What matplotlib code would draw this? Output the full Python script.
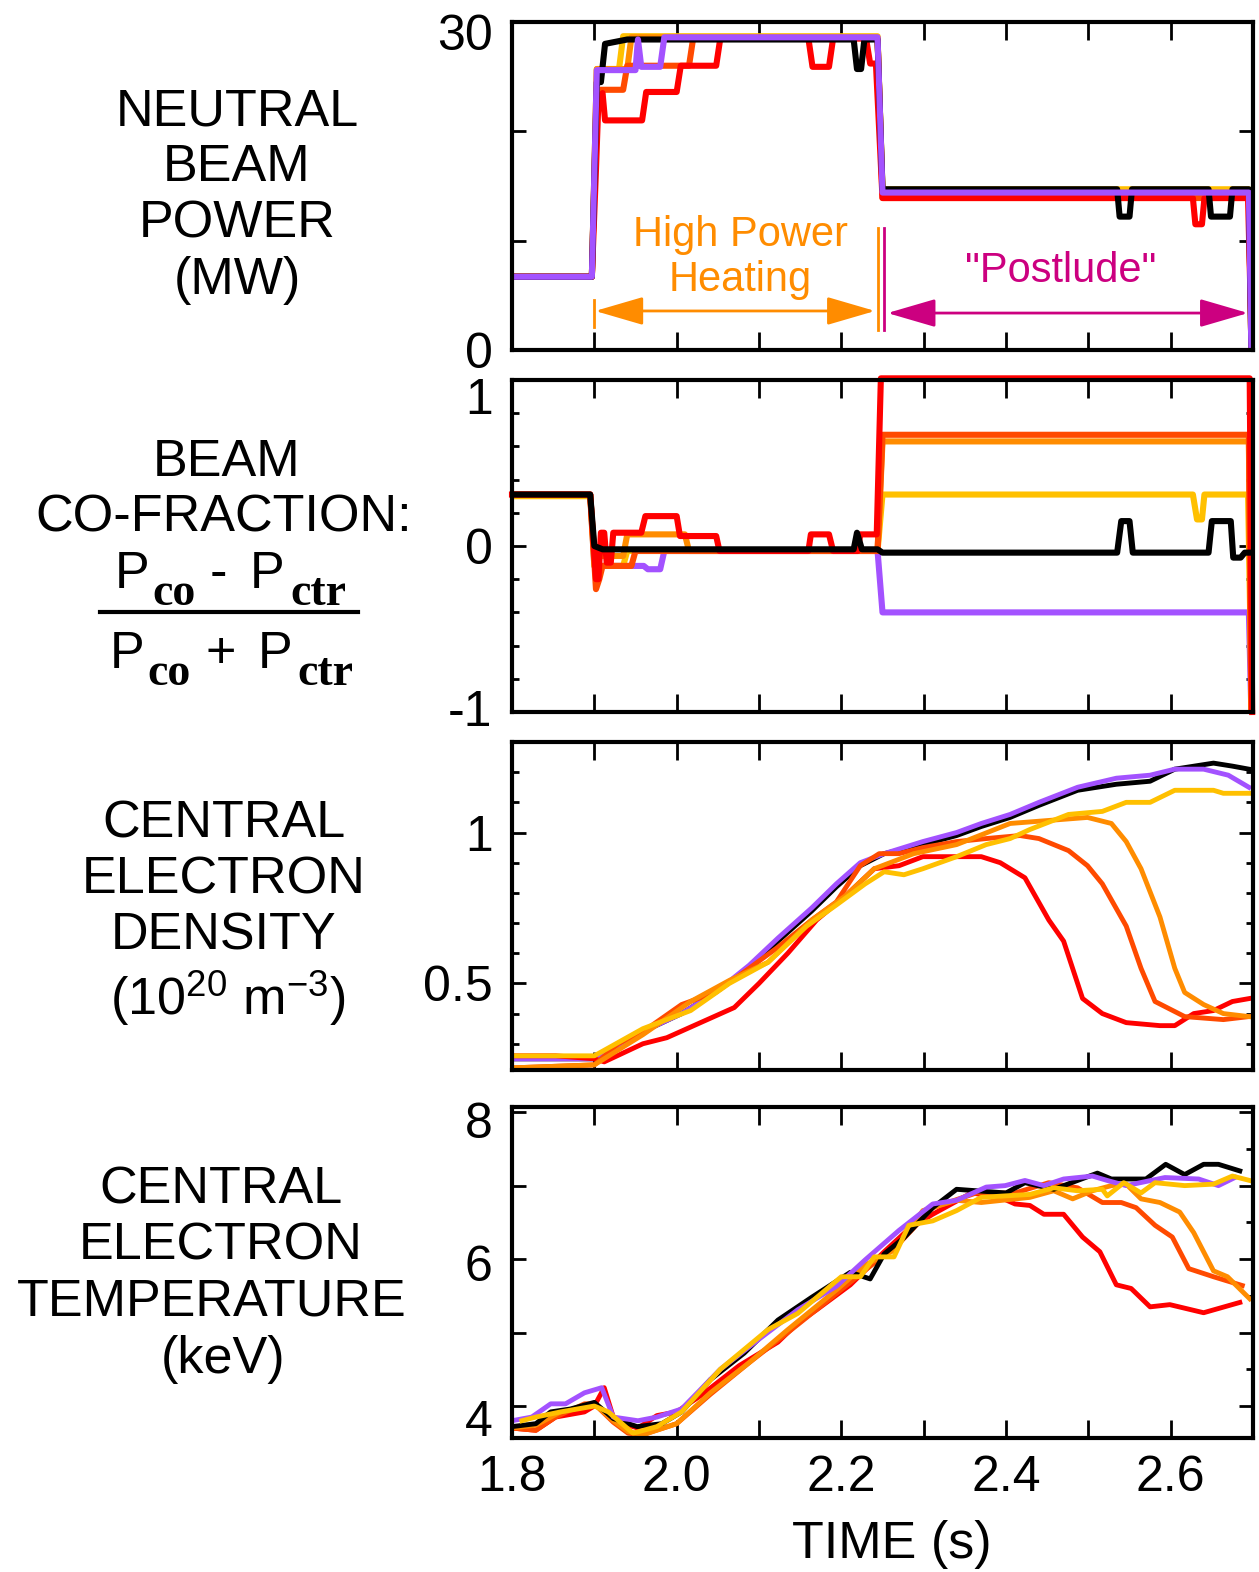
import matplotlib
matplotlib.use("Agg")
import matplotlib.pyplot as plt
from matplotlib.lines import Line2D
from matplotlib.transforms import ScaledTranslation

plt.rcParams['font.family'] = ['Liberation Sans', 'DejaVu Sans']
plt.rcParams['mathtext.fontset'] = 'custom'
plt.rcParams['mathtext.rm'] = 'Liberation Sans'
plt.rcParams['mathtext.it'] = 'Liberation Sans:italic'
plt.rcParams['mathtext.bf'] = 'Liberation Sans:bold'

# colores de cada descarga
C_BLACK = '#000000'
C_RED = '#FF0000'
C_OREDRED = '#FF4A00'
C_ORANGE = '#FF8C00'
C_GOLD = '#FFC000'
C_PURPLE = '#A352FF'

# 1. Potencia de haces neutros (MW)
nb_t_black = [1.8, 1.897, 1.903, 1.908, 1.913, 1.94, 2.215, 2.219, 2.224, 2.228, 2.244, 2.25, 2.535, 2.538, 2.55, 2.553, 2.646, 2.649, 2.672, 2.675, 2.695, 2.698]
nb_black = [6.7, 6.7, 24.5, 24.5, 28.0, 28.4, 28.4, 25.7, 25.7, 28.4, 28.4, 14.7, 14.7, 12.2, 12.2, 14.7, 14.7, 12.2, 12.2, 14.7, 14.7, 0.0]
nb_t_red = [1.8, 1.897, 1.902, 1.905, 1.91, 1.913, 1.958, 1.963, 2.0, 2.005, 2.048, 2.053, 2.16, 2.165, 2.185, 2.19, 2.23, 2.235, 2.242, 2.25, 2.627, 2.63, 2.638, 2.641, 2.694, 2.697, 2.699]
nb_red = [6.7, 6.7, 16.5, 22.9, 23.5, 21.0, 21.0, 23.6, 23.6, 26.0, 26.0, 28.5, 28.5, 25.9, 25.9, 28.5, 28.5, 26.2, 26.2, 13.9, 13.9, 11.5, 11.5, 13.9, 13.9, 4.6, 0.0]
nb_t_oredred = [1.8, 1.897, 1.903, 1.935, 1.94, 2.015, 2.02, 2.244, 2.25, 2.695, 2.698]
nb_oredred = [6.7, 6.7, 23.8, 23.8, 26.0, 26.0, 28.5, 28.5, 13.9, 13.9, 0.0]
nb_t_orange = [1.8, 1.897, 1.903, 1.94, 1.945, 2.244, 2.25, 2.695, 2.698]
nb_orange = [6.7, 6.7, 25.7, 25.7, 28.6, 28.6, 14.4, 14.4, 0.0]
nb_t_gold = [1.8, 1.897, 1.903, 1.93, 1.935, 2.244, 2.25, 2.695, 2.698]
nb_gold = [6.7, 6.7, 25.7, 25.7, 28.7, 28.7, 14.7, 14.7, 0.0]
nb_t_purple = [1.8, 1.897, 1.903, 1.95, 1.953, 1.957, 1.98, 1.985, 2.244, 2.25, 2.695, 2.698]
nb_purple = [6.7, 6.7, 25.6, 25.6, 28.4, 25.9, 25.9, 28.6, 28.6, 14.4, 14.4, 0.0]

# 2. Fraccion co-corriente
cf_t_black = [1.8, 1.895, 1.9, 1.91, 2.215, 2.219, 2.225, 2.244, 2.25, 2.535, 2.54, 2.55, 2.554, 2.646, 2.65, 2.673, 2.676, 2.685, 2.69, 2.695]
cf_black = [0.31, 0.31, 0.0, -0.02, -0.02, 0.08, -0.02, -0.02, -0.04, -0.04, 0.15, 0.15, -0.04, -0.04, 0.15, 0.15, -0.07, -0.07, -0.04, -0.04]
cf_t_red = [1.8, 1.895, 1.902, 1.905, 1.908, 1.912, 1.915, 1.92, 1.923, 1.957, 1.962, 2.0, 2.004, 2.048, 2.052, 2.16, 2.163, 2.185, 2.19, 2.22, 2.223, 2.243, 2.248, 2.696, 2.699]
cf_red = [0.31, 0.31, -0.2, -0.2, 0.08, 0.08, -0.1, -0.1, 0.08, 0.08, 0.18, 0.18, 0.06, 0.06, -0.03, -0.03, 0.07, 0.07, -0.03, -0.03, 0.07, 0.07, 1.01, 1.01, -1.0]
cf_t_oredred = [1.8, 1.895, 1.902, 1.906, 1.91, 1.945, 1.95, 2.244, 2.25, 2.695, 2.698]
cf_oredred = [0.31, 0.31, -0.26, -0.2, -0.12, -0.12, -0.03, -0.03, 0.67, 0.67, -1.0]
cf_t_orange = [1.8, 1.895, 1.9, 1.935, 1.94, 2.01, 2.015, 2.244, 2.25, 2.695, 2.698]
cf_orange = [0.31, 0.31, -0.06, -0.06, 0.07, 0.07, -0.03, -0.03, 0.63, 0.63, -1.0]
cf_t_gold = [1.8, 1.895, 1.9, 1.935, 1.94, 2.244, 2.25, 2.627, 2.632, 2.638, 2.641, 2.694, 2.699]
cf_gold = [0.30, 0.30, -0.12, -0.12, -0.03, -0.03, 0.31, 0.31, 0.16, 0.16, 0.31, 0.31, -1.1]
cf_t_purple = [1.8, 1.895, 1.9, 1.96, 1.965, 1.98, 1.985, 2.244, 2.25, 2.695, 2.698]
cf_purple = [0.31, 0.31, -0.12, -0.12, -0.14, -0.14, -0.03, -0.03, -0.40, -0.40, -1.0]

# 3. Densidad electronica central (1e20 m^-3)
ne_t_black = [1.8, 1.9, 1.959, 2.006, 2.047, 2.088, 2.123, 2.164, 2.194, 2.223, 2.252, 2.299, 2.34, 2.37, 2.405, 2.44, 2.487, 2.534, 2.575, 2.605, 2.652, 2.675, 2.695]
ne_black = [0.25, 0.25, 0.34, 0.40, 0.47, 0.55, 0.64, 0.74, 0.82, 0.89, 0.93, 0.96, 0.99, 1.02, 1.05, 1.09, 1.14, 1.16, 1.17, 1.21, 1.23, 1.22, 1.21]
ne_t_purple = [1.8, 1.9, 1.959, 2.006, 2.047, 2.088, 2.123, 2.164, 2.194, 2.223, 2.252, 2.299, 2.34, 2.37, 2.405, 2.44, 2.487, 2.534, 2.575, 2.605, 2.64, 2.67, 2.695]
ne_purple = [0.25, 0.25, 0.34, 0.40, 0.47, 0.56, 0.65, 0.75, 0.83, 0.90, 0.93, 0.97, 1.0, 1.03, 1.06, 1.10, 1.15, 1.18, 1.19, 1.21, 1.21, 1.19, 1.15]
ne_t_gold = [1.8, 1.9, 1.959, 2.017, 2.064, 2.111, 2.158, 2.194, 2.229, 2.252, 2.276, 2.299, 2.34, 2.376, 2.405, 2.429, 2.476, 2.517, 2.546, 2.575, 2.605, 2.652, 2.664, 2.695]
ne_gold = [0.26, 0.26, 0.35, 0.41, 0.50, 0.57, 0.69, 0.76, 0.83, 0.87, 0.86, 0.88, 0.92, 0.96, 0.98, 1.01, 1.06, 1.07, 1.10, 1.10, 1.14, 1.14, 1.13, 1.13]
ne_t_orange = [1.8, 1.9, 1.959, 2.017, 2.064, 2.111, 2.164, 2.205, 2.24, 2.288, 2.34, 2.405, 2.452, 2.499, 2.528, 2.546, 2.564, 2.587, 2.605, 2.617, 2.64, 2.664, 2.695]
ne_orange = [0.22, 0.23, 0.33, 0.44, 0.51, 0.57, 0.71, 0.79, 0.88, 0.93, 0.96, 1.03, 1.04, 1.05, 1.03, 0.97, 0.88, 0.72, 0.55, 0.47, 0.43, 0.40, 0.39]
ne_t_oredred = [1.8, 1.9, 1.929, 1.959, 2.006, 2.047, 2.088, 2.123, 2.164, 2.194, 2.223, 2.246, 2.27, 2.299, 2.34, 2.376, 2.417, 2.44, 2.476, 2.499, 2.517, 2.546, 2.564, 2.581, 2.617, 2.664, 2.695]
ne_oredred = [0.22, 0.23, 0.30, 0.34, 0.43, 0.47, 0.55, 0.62, 0.71, 0.77, 0.89, 0.93, 0.93, 0.95, 0.97, 0.98, 0.99, 0.98, 0.94, 0.89, 0.83, 0.69, 0.55, 0.44, 0.39, 0.38, 0.39]
ne_t_red = [1.8, 1.853, 1.9, 1.912, 1.959, 1.988, 2.029, 2.07, 2.1, 2.135, 2.17, 2.205, 2.24, 2.27, 2.299, 2.37, 2.393, 2.423, 2.452, 2.47, 2.493, 2.517, 2.546, 2.587, 2.605, 2.628, 2.652, 2.675, 2.696]
ne_red = [0.26, 0.26, 0.25, 0.24, 0.30, 0.32, 0.37, 0.42, 0.50, 0.60, 0.71, 0.79, 0.88, 0.89, 0.92, 0.92, 0.90, 0.85, 0.71, 0.64, 0.45, 0.40, 0.37, 0.36, 0.36, 0.40, 0.41, 0.44, 0.45]

# 4. Temperatura electronica central (keV)
te_t_black = [1.8, 1.829, 1.847, 1.871, 1.9, 1.923, 1.952, 1.982, 2.006, 2.041, 2.082, 2.123, 2.164, 2.211, 2.235, 2.252, 2.276, 2.311, 2.34, 2.4, 2.423, 2.458, 2.511, 2.528, 2.57, 2.594, 2.617, 2.64, 2.658, 2.684]
te_black = [3.72, 3.76, 3.92, 3.96, 4.05, 3.83, 3.72, 3.76, 3.92, 4.36, 4.72, 5.17, 5.48, 5.82, 5.73, 6.07, 6.29, 6.70, 6.95, 6.90, 7.04, 6.95, 7.17, 7.09, 7.09, 7.29, 7.15, 7.29, 7.29, 7.20]
te_t_purple = [1.8, 1.824, 1.847, 1.865, 1.888, 1.909, 1.923, 1.953, 1.976, 2.006, 2.053, 2.1, 2.147, 2.194, 2.229, 2.27, 2.311, 2.34, 2.376, 2.399, 2.423, 2.446, 2.47, 2.505, 2.523, 2.546, 2.593, 2.634, 2.658, 2.678]
te_purple = [3.80, 3.85, 4.03, 4.03, 4.18, 4.25, 3.85, 3.80, 3.85, 3.96, 4.50, 4.91, 5.31, 5.63, 5.99, 6.39, 6.75, 6.80, 6.98, 7.0, 7.07, 7.0, 7.09, 7.13, 7.07, 7.0, 7.11, 7.09, 7.0, 7.11]
te_t_gold = [1.812, 1.829, 1.859, 1.9, 1.917, 1.947, 1.976, 2.006, 2.053, 2.111, 2.147, 2.2, 2.223, 2.24, 2.264, 2.282, 2.311, 2.34, 2.37, 2.399, 2.429, 2.458, 2.487, 2.517, 2.523, 2.543, 2.564, 2.581, 2.617, 2.652, 2.675, 2.696]
te_gold = [3.80, 3.85, 3.92, 4.0, 3.92, 3.63, 3.72, 3.92, 4.50, 5.04, 5.26, 5.76, 5.76, 6.03, 6.03, 6.46, 6.52, 6.66, 6.84, 6.86, 6.88, 6.97, 6.93, 6.95, 6.86, 7.04, 6.9, 7.04, 7.0, 7.02, 7.13, 7.07]
te_t_orange = [1.8, 1.829, 1.859, 1.9, 1.923, 1.941, 1.959, 2.0, 2.041, 2.088, 2.135, 2.194, 2.229, 2.264, 2.299, 2.34, 2.37, 2.429, 2.458, 2.481, 2.505, 2.528, 2.546, 2.564, 2.587, 2.611, 2.628, 2.652, 2.669, 2.696]
te_orange = [3.70, 3.74, 3.92, 4.03, 3.80, 3.65, 3.61, 3.76, 4.18, 4.59, 5.04, 5.58, 5.92, 6.12, 6.66, 6.80, 6.77, 6.84, 6.93, 6.82, 6.93, 7.0, 7.02, 6.82, 6.77, 6.64, 6.36, 5.84, 5.76, 5.46]
te_t_oredred = [1.8, 1.829, 1.853, 1.888, 1.9, 1.923, 1.941, 1.959, 2.0, 2.041, 2.088, 2.135, 2.194, 2.229, 2.27, 2.311, 2.364, 2.411, 2.452, 2.487, 2.517, 2.54, 2.558, 2.581, 2.602, 2.622, 2.652, 2.687]
te_oredred = [3.70, 3.67, 3.85, 4.03, 4.03, 3.78, 3.63, 3.61, 3.76, 4.16, 4.59, 5.0, 5.53, 5.85, 6.21, 6.70, 6.90, 6.90, 7.04, 6.97, 6.77, 6.77, 6.70, 6.46, 6.30, 5.87, 5.76, 5.64]
te_t_red = [1.8, 1.829, 1.853, 1.888, 1.9, 1.912, 1.923, 1.941, 1.953, 1.976, 2.0, 2.029, 2.076, 2.123, 2.147, 2.17, 2.211, 2.252, 2.282, 2.311, 2.358, 2.393, 2.411, 2.429, 2.446, 2.47, 2.493, 2.514, 2.534, 2.552, 2.575, 2.599, 2.64, 2.684]
te_red = [3.70, 3.67, 3.85, 3.92, 4.0, 4.25, 3.85, 3.74, 3.70, 3.87, 3.92, 4.14, 4.55, 4.87, 5.13, 5.31, 5.65, 6.10, 6.41, 6.61, 6.90, 6.84, 6.75, 6.73, 6.61, 6.61, 6.30, 6.10, 5.65, 5.60, 5.35, 5.38, 5.27, 5.41]

x_ticks = [1.8, 1.9, 2.0, 2.1, 2.2, 2.3, 2.4, 2.5, 2.6, 2.7]
x_ticklabels = ['1.8', '', '2.0', '', '2.2', '', '2.4', '', '2.6', '']

W, H = 1259, 1572
fig = plt.figure(figsize=(W / 100, H / 100), dpi=100)


def caja(top_px, bot_px):
    return [512 / W, 1 - bot_px / H, (1253 - 512) / W, (bot_px - top_px) / H]


ax1 = fig.add_axes(caja(22, 350))
ax2 = fig.add_axes(caja(380, 712))
ax3 = fig.add_axes(caja(742, 1070))
ax4 = fig.add_axes(caja(1107, 1438))

for ax in (ax1, ax2, ax3, ax4):
    ax.set_xlim(1.8, 2.7)
    ax.set_xticks(x_ticks)
    ax.set_xticklabels(x_ticklabels if ax is ax4 else [''] * len(x_ticks))
    for s in ax.spines.values():
        s.set_linewidth(3)
    ax.tick_params(axis='both', which='both', direction='in', top=True, right=True,
                   width=2, labelsize=36)
    ax.tick_params(axis='x', which='major', length=13, pad=12)
    ax.tick_params(axis='y', which='major', length=10, pad=14)
    ax.tick_params(axis='y', which='minor', length=5)

# Panel 1
LW = 4.4
ax1.plot(nb_t_gold, nb_gold, color=C_GOLD, lw=LW)
ax1.plot(nb_t_orange, nb_orange, color=C_ORANGE, lw=LW)
ax1.plot(nb_t_oredred, nb_oredred, color=C_OREDRED, lw=LW)
ax1.plot(nb_t_red, nb_red, color=C_RED, lw=LW)
ax1.plot(nb_t_black, nb_black, color=C_BLACK, lw=LW)
ax1.plot(nb_t_purple, nb_purple, color=C_PURPLE, lw=LW)
ax1.set_ylim(0, 30)
ax1.set_yticks([0, 10, 20, 30])
ax1.set_yticklabels(['0', '', '', '30'])

# anotaciones
OR_TXT = '#FF8C00'
MG_TXT = '#CC0080'
ax1.text(2.077, 10.5, 'High Power', color=OR_TXT, fontsize=30, ha='center', va='center')
ax1.text(2.077, 6.4, 'Heating', color=OR_TXT, fontsize=30, ha='center', va='center')
ax1.text(2.467, 7.2, '"Postlude"', color=MG_TXT, fontsize=30, ha='center', va='center')
ax1.annotate('', xy=(2.241, 3.57), xytext=(1.901, 3.57),
             arrowprops=dict(arrowstyle='<|-|>,head_length=1.2,head_width=0.35',
                             color=OR_TXT, lw=2, mutation_scale=25, shrinkA=0, shrinkB=0))
ax1.annotate('', xy=(2.694, 3.38), xytext=(2.256, 3.38),
             arrowprops=dict(arrowstyle='<|-|>,head_length=1.2,head_width=0.35',
                             color=MG_TXT, lw=2, mutation_scale=25, shrinkA=0, shrinkB=0))
ax1.plot([1.9, 1.9], [2.1, 4.6], color=OR_TXT, lw=2)
ax1.plot([2.244, 2.244], [1.8, 11.2], color=OR_TXT, lw=2)
ax1.plot([2.2515, 2.2515], [1.8, 11.2], color=MG_TXT, lw=2)

# Panel 2
ax2.plot(cf_t_purple, cf_purple, color=C_PURPLE, lw=LW)
ax2.plot(cf_t_gold, cf_gold, color=C_GOLD, lw=LW)
ax2.plot(cf_t_orange, cf_orange, color=C_ORANGE, lw=LW)
ax2.plot(cf_t_oredred, cf_oredred, color=C_OREDRED, lw=LW)
ax2.plot(cf_t_red, cf_red, color=C_RED, lw=LW, clip_on=False)
ax2.plot(cf_t_black, cf_black, color=C_BLACK, lw=LW)
ax2.set_ylim(-1, 1)
ax2.set_yticks([-1, 0, 1])
ax2.set_yticklabels(['-1', '0', '1'])
ax2.set_yticks([-0.8, -0.6, -0.4, -0.2, 0.2, 0.4, 0.6, 0.8], minor=True)

# Panel 3
LW2 = 3.5
ax3.plot(ne_t_black, ne_black, color=C_BLACK, lw=LW2)
ax3.plot(ne_t_purple, ne_purple, color=C_PURPLE, lw=LW2)
ax3.plot(ne_t_red, ne_red, color=C_RED, lw=LW2)
ax3.plot(ne_t_oredred, ne_oredred, color=C_OREDRED, lw=LW2)
ax3.plot(ne_t_orange, ne_orange, color=C_ORANGE, lw=LW2)
ax3.plot(ne_t_gold, ne_gold, color=C_GOLD, lw=LW2)
ax3.set_ylim(0.213, 1.3)
ax3.set_yticks([0.5, 1.0])
ax3.set_yticklabels(['0.5', '1'])
ax3.set_yticks([0.3, 0.4, 0.6, 0.7, 0.8, 0.9, 1.1, 1.2], minor=True)

# Panel 4
ax4.plot(te_t_red, te_red, color=C_RED, lw=LW2)
ax4.plot(te_t_oredred, te_oredred, color=C_OREDRED, lw=LW2)
ax4.plot(te_t_orange, te_orange, color=C_ORANGE, lw=LW2)
ax4.plot(te_t_black, te_black, color=C_BLACK, lw=LW2)
ax4.plot(te_t_purple, te_purple, color=C_PURPLE, lw=LW2)
ax4.plot(te_t_gold, te_gold, color=C_GOLD, lw=LW2)
ax4.set_ylim(3.565, 8.07)
ax4.set_yticks([4, 5, 6, 7, 8])
ax4.set_yticklabels(['4', '', '6', '', '8'])
ax4.set_yticks([4.5, 5.5, 6.5, 7.5], minor=True)
ax4.tick_params(axis='y', which='minor', left=False, right=True)

# pequeños desplazamientos verticales de etiquetas (px, positivo = abajo)
for ax, idx, dy in [(ax1, 3, 10), (ax2, 2, 16), (ax2, 0, -4), (ax4, 4, 8), (ax4, 2, 4), (ax4, 0, 12)]:
    lab = ax.yaxis.get_major_ticks()[idx].label1
    lab.set_transform(lab.get_transform() + ScaledTranslation(0, -dy / 100, fig.dpi_scale_trans))


def ftext(x, y, s, **kw):
    fig.text(x / W, 1 - y / H, s, **kw)


FS = 37.5
for s, x, y in [('NEUTRAL', 237, 126), ('BEAM', 237, 181), ('POWER', 237, 237), ('(MW)', 237, 294),
                ('BEAM', 227, 476), ('CO-FRACTION:', 224, 531),
                ('CENTRAL', 224, 837), ('ELECTRON', 224, 893), ('DENSITY', 224, 949),
                (r'(10$^{20}$ m$^{-3}$)', 228, 1015),
                ('CENTRAL', 221, 1204), ('ELECTRON', 221, 1260), ('TEMPERATURE', 212, 1316),
                ('(keV)', 223, 1373)]:
    ftext(x, y, s, fontsize=FS, ha='center', va='baseline')

# fraccion P_co - P_ctr / P_co + P_ctr
SERIF = dict(family='Liberation Serif', weight='bold', fontsize=33, va='baseline', ha='left')
SANS = dict(fontsize=FS, va='baseline', ha='left')
ftext(115, 588, 'P', **SANS)
ftext(152, 605, 'co', **SERIF)
ftext(210, 588, '-', **SANS)
ftext(250, 588, 'P', **SANS)
ftext(290, 605, 'ctr', **SERIF)
ftext(110, 668, 'P', **SANS)
ftext(147, 685, 'co', **SERIF)
ftext(206, 668, '+', **SANS)
ftext(258, 668, 'P', **SANS)
ftext(297, 685, 'ctr', **SERIF)
fig.add_artist(Line2D([100 / W, 358 / W], [1 - 612 / H, 1 - 612 / H], color='black', lw=3))

ftext(892, 1558, 'TIME (s)', fontsize=FS, ha='center', va='baseline')

fig.savefig('out.png', dpi=100)
